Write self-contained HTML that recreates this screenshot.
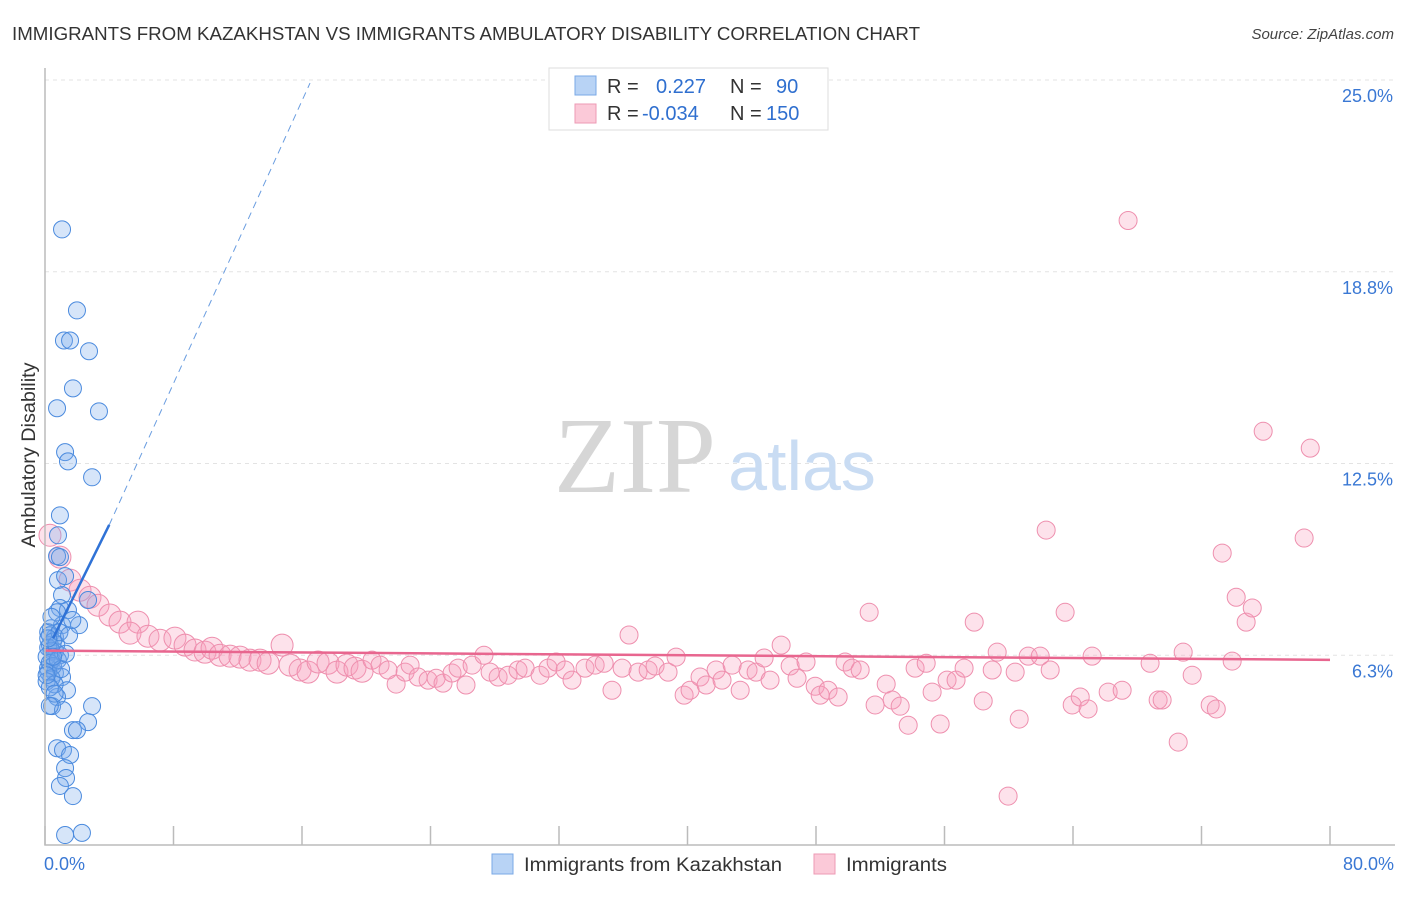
<!DOCTYPE html>
<html><head><meta charset="utf-8"><style>
body{margin:0;background:#fff;font-family:"Liberation Sans",sans-serif;}
svg text{font-family:"Liberation Sans",sans-serif;}
</style></head><body>
<svg id="chart" width="1406" height="892" xmlns="http://www.w3.org/2000/svg">
<text x="12" y="40" font-size="18" fill="#333" textLength="908" lengthAdjust="spacingAndGlyphs">IMMIGRANTS FROM KAZAKHSTAN VS IMMIGRANTS AMBULATORY DISABILITY CORRELATION CHART</text>
<text x="1394" y="39" font-size="15" fill="#444" font-style="italic" text-anchor="end">Source: ZipAtlas.com</text>
<g id="grid"></g>
<text x="635" y="492" font-size="108" fill="#d6d6d6" font-family="Liberation Serif" text-anchor="middle" style="font-family:'Liberation Serif',serif">ZIP</text>
<text x="802" y="490" font-size="70" fill="#c9dcf3" text-anchor="middle">atlas</text>
<g id="pink"></g>
<g id="blue"></g>
<g id="trends"></g>
<g id="axes"></g>
<text transform="translate(35,455) rotate(-90)" font-size="19" fill="#333" text-anchor="middle" textLength="185" lengthAdjust="spacingAndGlyphs">Ambulatory Disability</text>
<g>
<rect x="549" y="68" width="279" height="62" fill="#fff" stroke="#ddd"/>
<rect x="575" y="76" width="21" height="19" fill="#b8d3f5" stroke="#7aa8e6"/>
<rect x="575" y="104" width="21" height="19" fill="#fbc9d8" stroke="#ee9ab4"/>
<text x="607" y="93" font-size="20" fill="#333">R =</text>
<text x="656" y="93" font-size="20" fill="#2f6fcf">0.227</text>
<text x="730" y="93" font-size="20" fill="#333">N =</text>
<text x="776" y="93" font-size="20" fill="#2f6fcf">90</text>
<text x="607" y="120" font-size="20" fill="#333">R =</text>
<text x="642" y="120" font-size="20" fill="#2f6fcf">-0.034</text>
<text x="730" y="120" font-size="20" fill="#333">N =</text>
<text x="766" y="120" font-size="20" fill="#2f6fcf">150</text>
</g>
<g>
<rect x="492" y="854" width="21" height="20" fill="#b8d3f5" stroke="#7aa8e6"/>
<text x="524" y="871" font-size="19" fill="#333" textLength="258" lengthAdjust="spacingAndGlyphs">Immigrants from Kazakhstan</text>
<rect x="814" y="854" width="21" height="20" fill="#fbc9d8" stroke="#ee9ab4"/>
<text x="846" y="871" font-size="19" fill="#333" textLength="101" lengthAdjust="spacingAndGlyphs">Immigrants</text>
</g>
</svg>
<script>
const xTicks=[0,8,16,24,32,40,48,56,64,72,80];
const yTicks=[6.25,12.5,18.75,25];
const yTickLabels=["6.3%","12.5%","18.8%","25.0%"];
const xEndLabels=["0.0%","80.0%"];
const blueX=[1.06,1.99,1.18,1.56,2.74,1.74,0.75,3.36,1.25,1.43,2.93,0.93,0.81,0.75,0.93,0.81,1.25,1.06,0.93,1.43,0.75,2.68,2.12,1.06,0.37,0.62,0.31,0.62,0.93,0.44,0.19,0.62,1.06,1.37,0.75,0.44,2.93,1.12,2.68,1.74,1.99,0.75,1.12,1.56,1.25,1.31,0.93,1.74,1.25,2.30,0.2,0.3,0.5,0.2,0.4,0.1,0.3,0.5,0.2,0.4,0.1,0.6,0.3,0.8,1.0,0.7,0.9,1.3,0.2,0.5,0.1,0.6,1.5,1.7,0.4,0.3];
const blueY=[20.13,17.49,16.51,16.51,16.16,14.95,14.30,14.20,12.87,12.57,12.05,10.81,10.16,9.48,9.45,8.70,8.83,8.21,7.79,7.72,7.65,8.05,7.23,7.23,7.13,6.84,6.58,6.38,6.25,6.09,5.83,5.67,5.54,5.11,4.89,4.59,4.59,4.46,4.07,3.81,3.81,3.22,3.16,3.00,2.57,2.25,1.99,1.66,0.39,0.46,7.0,6.9,6.7,6.5,6.4,6.2,6.0,5.9,5.7,5.5,5.4,5.3,5.2,6.1,5.8,6.6,7.0,6.3,6.8,6.2,5.6,5.0,6.9,7.4,7.5,4.6];
const pinkX=[0.31,0.93,1.56,2.18,2.80,3.30,4.05,4.67,5.79,5.29,6.41,7.16,8.09,8.72,9.34,9.96,10.40,10.90,11.52,12.14,12.76,13.39,13.89,14.76,15.26,15.88,16.38,17.00,17.62,18.18,18.80,19.30,19.74,20.36,20.86,21.36,21.86,22.42,22.73,23.23,23.85,24.35,24.78,25.34,25.72,26.21,26.59,27.33,27.71,28.21,28.83,29.45,29.89,30.82,31.32,31.82,32.38,32.81,33.62,34.25,34.81,35.30,35.93,36.36,36.92,37.55,37.98,38.79,39.29,39.79,40.16,40.78,41.16,41.78,42.15,42.78,43.28,43.77,44.27,44.77,45.14,45.83,46.39,46.82,47.38,47.95,48.26,48.75,49.38,49.81,50.25,50.75,51.31,51.68,52.37,52.74,53.24,53.74,54.17,54.86,55.23,55.73,56.16,56.72,57.22,57.85,58.41,58.97,59.28,59.96,60.40,60.65,61.21,61.96,62.33,62.58,63.51,63.95,64.45,64.94,65.19,66.19,67.06,67.43,68.80,69.30,69.55,70.55,70.86,71.42,72.54,72.92,73.29,73.91,74.16,74.78,75.16,75.84,78.39,78.77];
const pinkY=[10.16,9.45,8.70,8.37,8.14,7.88,7.56,7.33,7.33,6.97,6.87,6.74,6.81,6.58,6.42,6.35,6.48,6.25,6.22,6.19,6.09,6.09,5.99,6.58,5.93,5.77,5.70,6.03,5.99,5.70,5.93,5.83,5.73,6.09,5.93,5.77,5.31,5.70,5.93,5.54,5.44,5.50,5.34,5.67,5.83,5.28,5.93,6.25,5.70,5.54,5.60,5.77,5.83,5.60,5.83,6.03,5.77,5.44,5.83,5.93,5.99,5.11,5.83,6.91,5.70,5.77,5.90,5.70,6.19,4.95,5.11,5.54,5.28,5.77,5.44,5.93,5.11,5.77,5.70,6.16,5.44,6.58,5.90,5.50,6.03,5.24,4.95,5.11,4.89,6.03,5.83,5.77,7.65,4.63,5.31,4.79,4.59,3.97,5.83,5.99,5.05,4.01,5.44,5.44,5.83,7.33,4.76,5.77,6.35,1.66,5.70,4.17,6.22,6.22,10.33,5.77,7.65,4.63,4.89,4.50,6.22,5.05,5.11,20.42,5.99,4.79,4.79,3.42,6.35,5.60,4.63,4.50,9.58,6.06,8.14,7.33,7.79,13.55,10.07,13.00];
const blueTrend=[[0.5,6.8],[4.0,10.5],[16.5,24.9]];
const pinkTrend=[[0,6.4],[80,6.1]];

const X0=45,X1=1330,Y0=847,Y25=80;
const sx=v=>X0+(X1-X0)*v/80;
const sy=v=>Y0-(Y0-Y25)*v/25;
const NS='http://www.w3.org/2000/svg';
function mk(tag,attrs,parent){const e=document.createElementNS(NS,tag);for(const k in attrs)e.setAttribute(k,attrs[k]);parent.appendChild(e);return e;}
const grid=document.getElementById('grid'),axes=document.getElementById('axes');
yTicks.forEach((t,i)=>{
 const g=mk('line',{x1:X0,x2:1395,y1:sy(t),y2:sy(t),stroke:'#e3e3e3','stroke-dasharray':'4,4'},grid);
 
 
 const l=mk('text',{x:1393,y:sy(t)+22,'font-size':18,fill:'#3a78d4','text-anchor':'end'},axes);
 l.textContent=yTickLabels[i];
 
 
});
const ax=mk('path',{d:`M${X0},68 L${X0},${845} L1395,845`,fill:'none',stroke:'#bbb','stroke-width':1.5},axes);


xTicks.forEach(t=>{
 const k=mk('line',{x1:sx(t),x2:sx(t),y1:826,y2:845,stroke:'#bbb','stroke-width':1.5},axes);
 
 
});
const xl0=mk('text',{x:44,y:870,'font-size':18,fill:'#3a78d4'},axes);xl0.textContent=xEndLabels[0];


const xl1=mk('text',{x:1394,y:870,'font-size':18,fill:'#3a78d4','text-anchor':'end'},axes);xl1.textContent=xEndLabels[1];


const pg=document.getElementById('pink');
pinkX.forEach((x,i)=>{
 const r=x<20?11:9;
 const c=mk('circle',{cx:sx(x),cy:sy(pinkY[i]),r:r,fill:'rgba(248,160,190,0.3)',stroke:'#ee8fae','stroke-width':1},pg);
 
 
});
const bg=document.getElementById('blue');
blueX.forEach((x,i)=>{
 const c=mk('circle',{cx:sx(x),cy:sy(blueY[i]),r:8.5,fill:'rgba(120,170,235,0.3)',stroke:'#4a8ade','stroke-width':1},bg);
 
 
});
const tg=document.getElementById('trends');
const b1=mk('line',{x1:sx(blueTrend[0][0]),y1:sy(blueTrend[0][1]),x2:sx(blueTrend[1][0]),y2:sy(blueTrend[1][1]),stroke:'#2f72d6','stroke-width':2.5},tg);


const b2=mk('line',{x1:sx(blueTrend[1][0]),y1:sy(blueTrend[1][1]),x2:sx(blueTrend[2][0]),y2:sy(blueTrend[2][1]),stroke:'#6a9de0','stroke-width':1,'stroke-dasharray':'7,5'},tg);


const p1=mk('line',{x1:sx(pinkTrend[0][0]),y1:sy(pinkTrend[0][1]),x2:sx(pinkTrend[1][0]),y2:sy(pinkTrend[1][1]),stroke:'#e8668f','stroke-width':2.5},tg);


</script>
</body></html>
